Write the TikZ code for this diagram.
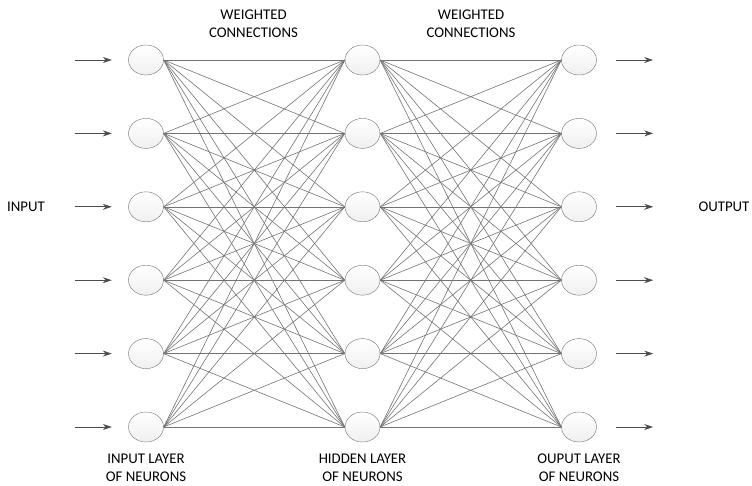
\documentclass[tikz,border=0pt]{standalone}
\usepackage{fontspec}
\setmainfont{Carlito}
\usetikzlibrary{positioning, arrows.meta, shapes.geometric}

\begin{document}
\begin{tikzpicture}[x=1pt, y=-1pt, >={Stealth[length=9pt, width=6pt]},
    neuron/.style={ellipse, draw=black!55, top color=white, bottom color=black!6,
        minimum width=35pt, minimum height=30pt, inner sep=0pt},
    link/.style={black!55, line width=0.6pt},
    feed/.style={->, black!70, line width=0.8pt},
    caption/.style={align=center, font=\fontsize{14.8}{18}\selectfont, text=black}]
    \useasboundingbox (0,0) rectangle (752,485);
    % three layers of six neurons
    \foreach \i in {1,...,6} {
        \pgfmathsetmacro{\ypos}{60+73.4*(\i-1)}
        \node[neuron] (in\i) at (146,\ypos) {};
        \node[neuron] (hid\i) at (362.5,\ypos) {};
        \node[neuron] (out\i) at (579,\ypos) {};
    }
    % weighted connections, every neuron to every neuron of the next layer
    \foreach \i in {1,...,6} {
        \foreach \j in {1,...,6} {
            \draw[link] (in\i.east) -- (hid\j.west);
            \draw[link] (hid\i.east) -- (out\j.west);
        }
    }
    % input and output arrows
    \foreach \i in {1,...,6} {
        \draw[feed] ([xshift=-53.5pt]in\i.west) -- ([xshift=-16.5pt]in\i.west);
        \draw[feed] ([xshift=19.5pt]out\i.east) -- ([xshift=56.5pt]out\i.east);
    }
    % labels
    \node[caption] (wc1) at (253.5,23.5) {WEIGHTED\\CONNECTIONS};
    \node[caption] (wc2) at (471,23.5) {WEIGHTED\\CONNECTIONS};
    \node[caption] (inlab) at (26,207) {INPUT};
    \node[caption] (outlab) at (724,207) {OUTPUT};
    \node[caption] (inlayer) at (146,468) {INPUT LAYER\\OF NEURONS};
    \node[caption] (hidlayer) at (362.5,468) {HIDDEN LAYER\\OF NEURONS};
    \node[caption] (outlayer) at (579,468) {OUPUT LAYER\\OF NEURONS};
\end{tikzpicture}
\end{document}
